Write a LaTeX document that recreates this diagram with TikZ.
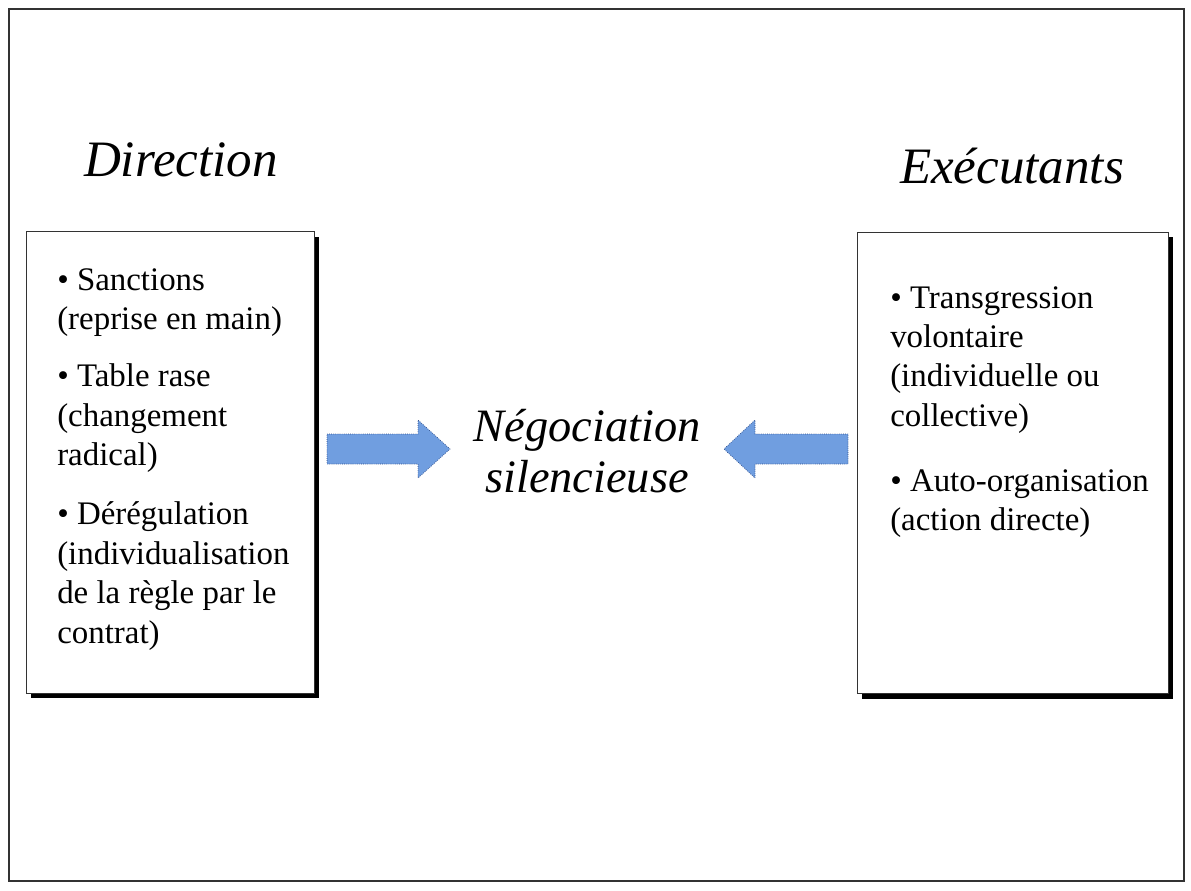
\documentclass[tikz,border=0pt]{standalone}
\usepackage{fontspec}
\setmainfont{Liberation Serif}
\usetikzlibrary{positioning,shadows}

\definecolor{arrowblue}{RGB}{112,158,224}
\definecolor{arrowedge}{RGB}{45,75,135}

\begin{document}
\begin{tikzpicture}[
  x=0.025cm, y=-0.025cm,
  sidebox/.style={draw=black!80, line width=0.6pt, fill=white, minimum height=11.53cm,
    drop shadow={shadow xshift=0.125cm, shadow yshift=-0.125cm, opacity=1, fill=black}},
  title/.style={font=\fontsize{36.3}{40}\selectfont\itshape, inner sep=0pt, anchor=base},
  itemlist/.style={font=\fontsize{23.4}{28}\selectfont, align=left, inner sep=0pt, anchor=north west},
  blockarrow/.style={fill=arrowblue, draw=arrowedge, line width=0.5pt, densely dotted}
]
\useasboundingbox (0,0) rectangle (1191,890);
\draw[line width=1.1pt, black!80] (9,9) rectangle (1184,881);

% ================= TITLES =================
\node[title] (dirtitle) at (181,176) {Direction};
\node[title] (exectitle) at (1012,183) {Exécutants};

% ================= BOXES =================
\node[sidebox, minimum width=7.2cm] (dirbox) at (170,462.5) {};
\node[sidebox, minimum width=7.775cm] (execbox) at (1012.5,463) {};

\node[itemlist] (dirlist) at (57,268) {%
• Sanctions\\
(reprise en main)\\[0.45cm]
• Table rase\\
(changement\\
radical)\\[0.5cm]
• Dérégulation\\
(individualisation\\
de la règle par le\\
contrat)};

\node[itemlist] (execlist) at (890,286) {%
• Transgression\\
volontaire\\
(individuelle ou\\
collective)\\[0.65cm]
• Auto-organisation\\
(action directe)};

% ================= CENTRE =================
\node[font=\fontsize{33}{36}\selectfont\itshape, align=center, inner sep=0pt] (nego) at (587,451)
  {Négociation\\silencieuse};

% ================= ARROWS =================
\draw[blockarrow] (327,434) -- (418,434) -- (418,420) -- (450,449) -- (418,478) -- (418,464) -- (327,464) -- cycle;
\draw[blockarrow] (848,434) -- (755,434) -- (755,420) -- (724,449) -- (755,478) -- (755,464) -- (848,464) -- cycle;

\end{tikzpicture}
\end{document}
